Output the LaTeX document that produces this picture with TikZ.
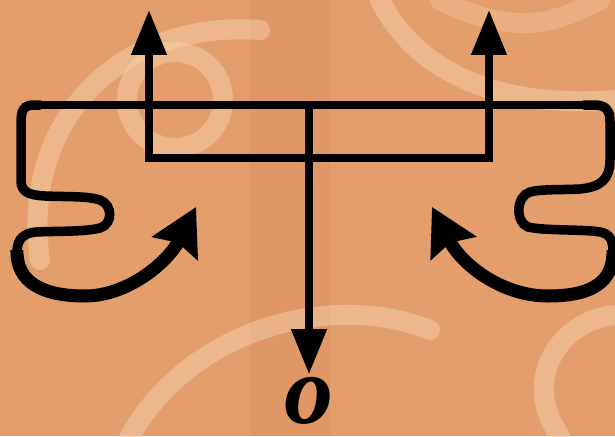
\documentclass[tikz,border=0pt]{standalone}
\usepackage{fontspec}
\newfontfamily\outfont{Liberation Serif}
\usetikzlibrary{arrows.meta,positioning}
\definecolor{wood}{RGB}{228,158,108}
\definecolor{woodlight}{RGB}{244,208,170}
\definecolor{wooddark}{RGB}{214,132,82}

\begin{document}
\begin{tikzpicture}[x=1pt,y=-1pt,
  bar/.style={line width=7.5pt},
  wig/.style={line width=9.5pt, line cap=round},
  up/.style={bar, -{Triangle[length=45pt,width=34pt]}},
  curl/.style={line width=13pt, -{Stealth[length=46pt,width=50pt,inset=6pt]}},
  swirl/.style={woodlight, line width=20pt, opacity=0.5, line cap=round}
]
% wood background
\fill[wood] (0,0) rectangle (615,436);
\useasboundingbox (0,0) rectangle (615,436);
\fill[wooddark, opacity=0.25] (250,0) rectangle (330,436);
\draw[swirl] (175,100) circle (48);
\draw[swirl] (40,260) .. controls (20,120) and (120,20) .. (260,30);
\draw[swirl] (380,0) .. controls (410,60) and (480,110) .. (615,100);
\draw[swirl] (130,436) .. controls (190,330) and (330,290) .. (430,330);
\draw[swirl] (560,436) .. controls (520,380) and (560,320) .. (615,315);
\draw[swirl, opacity=0.35] (440,0) .. controls (520,40) and (560,20) .. (600,0);

% Points
\coordinate (hub) at (309,106);
\coordinate (boxL) at (149,106);
\coordinate (boxR) at (489,106);
\coordinate (boxBR) at (489,158);
\coordinate (topL) at (149,10);
\coordinate (topR) at (489,10);
\coordinate (barL) at (40,105);
\coordinate (barR) at (584,105);
\coordinate (curlL) at (196,207);
\coordinate (curlR) at (432,207);

% Output
\node[font={\outfont\bfseries\itshape\fontsize{98pt}{98pt}\selectfont}, inner sep=3pt] (out) at (309,401) {o};

% Bar and box
\draw[bar] (barL) -- (barR);
\draw[bar] (boxL) |- (boxBR) -- (boxR);
\draw[up] (boxL) -- (topL);
\draw[up] (boxR) -- (topR);
\draw[up] (hub) -- (out);

% Wiggles
\draw[wig] (barL) -- (34,105) .. controls (24,105) and (21,110) .. (21,122) -- (21,180)
  .. controls (21,192) and (28,195) .. (45,196) .. controls (70,197) and (88,196) .. (100,200)
  .. controls (113,205) and (113,224) .. (100,228) .. controls (85,232) and (55,231) .. (36,232)
  .. controls (25,233) and (17,238) .. (17,252);
\draw[wig] (barR) -- (594,105) .. controls (606,105) and (610,110) .. (610,122) -- (610,160)
  .. controls (610,180) and (600,187) .. (580,189) .. controls (560,190) and (541,189) .. (530,192)
  .. controls (516,196) and (515,222) .. (528,227) .. controls (545,231) and (582,229) .. (600,232)
  .. controls (610,234) and (613,240) .. (613,252);

% Curls
\draw[curl] (17,250) .. controls (16,282) and (42,296) .. (85,296) .. controls (128,296) and (168,262) .. (curlL);
\draw[curl] (613,250) .. controls (614,282) and (592,296) .. (548,296) .. controls (502,296) and (462,265) .. (curlR);
\end{tikzpicture}
\end{document}
